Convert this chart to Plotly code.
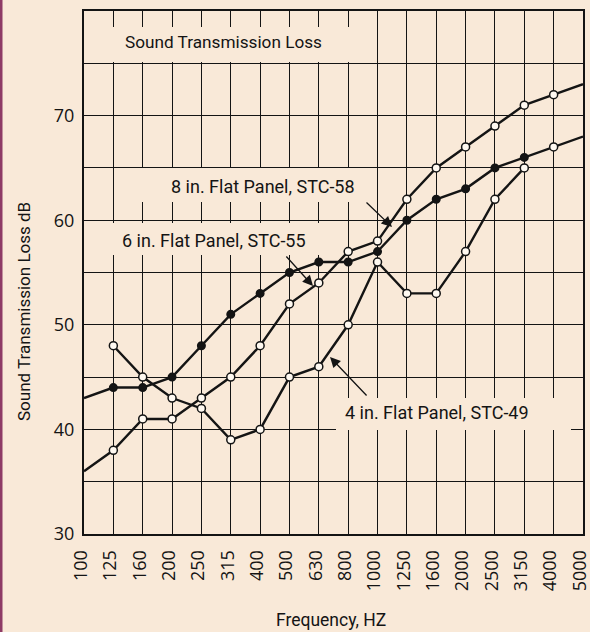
import plotly.graph_objects as go

# --- data -----------------------------------------------------------------
freq_labels = ["100", "125", "160", "200", "250", "315", "400", "500", "630",
               "800", "1000", "1250", "1600", "2000", "2500", "3150", "4000", "5000"]

# Sound transmission loss (dB) per one-third octave band
stl_8in = [36, 38, 41, 41, 43, 45, 48, 52, 54, 57, 58, 62, 65, 67, 69, 71, 72, 73]
stl_6in = [43, 44, 44, 45, 48, 51, 53, 55, 56, 56, 57, 60, 62, 63, 65, 66, 67, 68]
stl_4in = [None, 48, 45, 43, 42, 39, 40, 45, 46, 50, 56, 53, 53, 57, 62, 65, None, None]

y_tick_vals = [30, 40, 50, 60, 70]
y_tick_labels = ["30", "40", "50", "60", "70"]

label_8in = "8 in. Flat Panel, STC-58"
label_6in = "6 in. Flat Panel, STC-55"
label_4in = "4 in. Flat Panel, STC-49"
chart_caption = "Sound Transmission Loss"
x_title = "Frequency, HZ"
y_title = "Sound Transmission Loss dB"

# --- layout geometry ------------------------------------------------------
W, H = 590, 632
ML, MR, MT, MB = 84, 7, 11, 98
PW, PH = W - ML - MR, H - MT - MB
X_RANGE = (0, len(freq_labels) - 1)
Y_RANGE = (30, 80)

BG = "#F9E9D8"
INK = "#141414"
OPEN_FILL = "#FFF9F1"
TEXT_FONT = "Roboto, Open Sans, sans-serif"
NUM_FONT = "Open Sans, sans-serif"


def xd(px):
    return X_RANGE[0] + (px - ML) / PW * (X_RANGE[1] - X_RANGE[0])


def yd(py):
    return Y_RANGE[1] - (py - MT) / PH * (Y_RANGE[1] - Y_RANGE[0])


def xp(px):
    return (px - ML) / PW


def yp(py):
    return 1 - (py - MT) / PH


x_idx = list(range(len(freq_labels)))

fig = go.Figure()

# curves
for vals in (stl_8in, stl_6in, stl_4in):
    fig.add_trace(go.Scatter(
        x=x_idx, y=vals, mode="lines",
        line=dict(color=INK, width=2.4), hoverinfo="skip", showlegend=False,
    ))


def add_markers(vals, idxs, filled):
    pts = [i for i in idxs if vals[i] is not None]
    fig.add_trace(go.Scatter(
        x=[x_idx[i] for i in pts], y=[vals[i] for i in pts], mode="markers",
        marker=dict(size=7.5 if filled else 8, symbol="circle",
                    color=INK if filled else OPEN_FILL,
                    line=dict(color=INK, width=1.5)),
        showlegend=False,
    ))


inner = range(1, len(freq_labels) - 1)
add_markers(stl_8in, inner, filled=False)
add_markers(stl_6in, [i for i in inner if i != 16], filled=True)
add_markers(stl_6in, [16], filled=False)
add_markers(stl_4in, inner, filled=False)

# background boxes behind the text labels (hide the grid, not the curves)
boxes = [
    (86, 27, 365, 62),    # caption
    (128, 168, 372, 202),  # 8 in.
    (86, 223, 335, 255),  # 6 in.
    (336, 398, 571, 430),  # 4 in.
]
shapes = []
for x0, y0, x1, y1 in boxes:
    shapes.append(dict(type="rect", xref="x", yref="y",
                       x0=xd(x0), x1=xd(x1), y0=yd(y1), y1=yd(y0),
                       fillcolor=BG, line=dict(width=0), layer="between"))
# coloured rule down the left edge of the page
shapes.append(dict(type="rect", xref="paper", yref="paper",
                   x0=xp(0), x1=xp(2.5), y0=yp(H), y1=yp(0),
                   fillcolor="#8E3B66", line=dict(width=0), layer="above"))

annotations = []


def text_at(txt, px, py, size, angle=0):
    annotations.append(dict(
        text=txt, xref="paper", yref="paper", x=xp(px), y=yp(py),
        xanchor="center", yanchor="middle", showarrow=False, textangle=angle,
        font=dict(family=TEXT_FONT, size=size, color=INK),
    ))


text_at(chart_caption, 223, 42, 17.2)
text_at(label_8in, 263, 186, 18)
text_at(label_6in, 214, 240, 18)
text_at(label_4in, 437, 412, 18)
text_at(y_title, 24, 312, 17, angle=-90)
text_at(x_title, 331, 620, 17.5)

# leader arrows from labels to curves (head, tail in pixels)
leaders = [((392, 227), (365, 201)), ((313, 286), (285, 255)), ((330, 357), (368, 397))]
for (hx, hy), (tx, ty) in leaders:
    annotations.append(dict(
        x=xd(hx), y=yd(hy), xref="x", yref="y", text="",
        showarrow=True, arrowhead=2, arrowsize=1.6, arrowwidth=1.3,
        arrowcolor=INK, ax=tx - hx, ay=ty - hy, standoff=0,
    ))

grid = dict(showgrid=True, gridcolor=INK, gridwidth=1.3, zeroline=False,
            showline=True, mirror=True, linecolor=INK, linewidth=2, ticks="",
            ticklabeloverflow="allow", automargin=False)

fig.update_layout(
    width=W, height=H,
    margin=dict(l=ML, r=MR, t=MT, b=MB, pad=0),
    paper_bgcolor=BG, plot_bgcolor=BG,
    showlegend=False,
    xaxis=dict(range=list(X_RANGE), tickmode="array", tickvals=x_idx,
               ticktext=freq_labels, tickangle=-90, ticklabelstandoff=7,
               ticklabelshift=-3,
               tickfont=dict(family=NUM_FONT, size=18, color=INK), **grid),
    yaxis=dict(range=list(Y_RANGE), tickmode="array",
               tickvals=list(range(Y_RANGE[0], Y_RANGE[1], 5)),
               ticktext=[y_tick_labels[y_tick_vals.index(v)] if v in y_tick_vals else ""
                         for v in range(Y_RANGE[0], Y_RANGE[1], 5)],
               ticklabelstandoff=4,
               tickfont=dict(family=NUM_FONT, size=18, color=INK), **grid),
    shapes=shapes,
    annotations=annotations,
)

fig.write_html("out.html")
